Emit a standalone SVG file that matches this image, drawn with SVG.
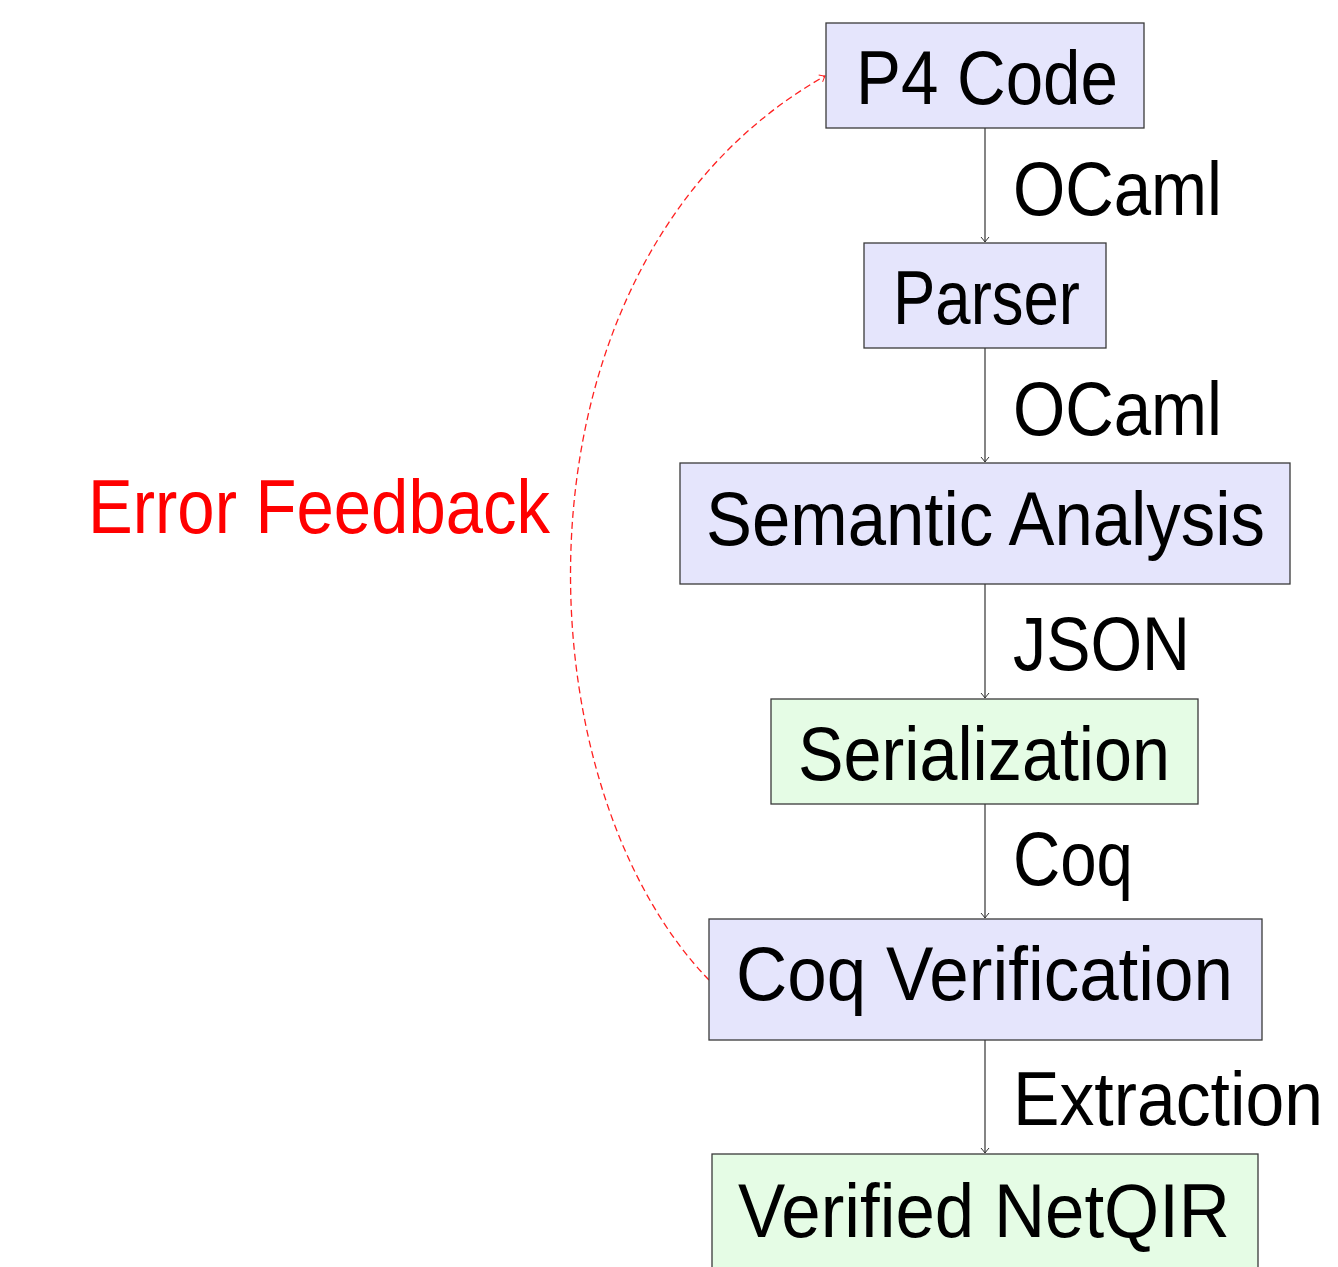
<svg xmlns="http://www.w3.org/2000/svg" width="1338" height="1267" viewBox="0 0 1338 1267">
<defs>
<style>
.box{stroke:#3a3a3a;stroke-width:1.3}
.blue{fill:#e5e5fc}
.green{fill:#e5fce5}
.t{font-family:"Liberation Sans",Arial,sans-serif;font-size:76px;fill:#000}
.edge{stroke:#333;stroke-width:1.2;fill:none}
.fb{stroke:#ff2020;stroke-width:1.3;fill:none;stroke-dasharray:7 4}
</style>
<marker id="arr" viewBox="-6 -5 7 10" markerWidth="7" markerHeight="10" refX="0" refY="0" orient="auto" markerUnits="userSpaceOnUse">
<path d="M-5,-4 Q-1.5,-1 0,0 Q-1.5,1 -5,4" fill="none" stroke="#333" stroke-width="1"/>
</marker>
<marker id="arrRed" viewBox="-6 -5 7 10" markerWidth="7" markerHeight="10" refX="0" refY="0" orient="auto" markerUnits="userSpaceOnUse">
<path d="M-5,-4 Q-1.5,-1 0,0 Q-1.5,1 -5,4" fill="none" stroke="#ff2020" stroke-width="1"/>
</marker>
</defs>
<rect width="1338" height="1267" fill="#fff"/>
<g id="connectors">
<line class="edge" x1="985" y1="128" x2="985" y2="242" marker-end="url(#arr)"/>
<line class="edge" x1="985" y1="348" x2="985" y2="462" marker-end="url(#arr)"/>
<line class="edge" x1="985" y1="584" x2="985" y2="698" marker-end="url(#arr)"/>
<line class="edge" x1="985" y1="804" x2="985" y2="918" marker-end="url(#arr)"/>
<line class="edge" x1="985" y1="1040" x2="985" y2="1153" marker-end="url(#arr)"/>
<path class="fb" d="M709,980 C515,780 500,260 825,76" marker-end="url(#arrRed)"/>
<text class="t" x="1013" y="215" textLength="209" lengthAdjust="spacingAndGlyphs">OCaml</text>
<text class="t" x="1013" y="435" textLength="209" lengthAdjust="spacingAndGlyphs">OCaml</text>
<text class="t" x="1013" y="670" textLength="177" lengthAdjust="spacingAndGlyphs">JSON</text>
<text class="t" x="1013" y="885" textLength="120" lengthAdjust="spacingAndGlyphs">Coq</text>
<text class="t" x="1013" y="1125" textLength="310" lengthAdjust="spacingAndGlyphs">Extraction</text>
<text class="t" x="88" y="533" textLength="462" lengthAdjust="spacingAndGlyphs" style="fill:#ff0000">Error Feedback</text>
</g>
<g id="p4code">
<rect class="box blue" x="826" y="23" width="318" height="105"/>
<text class="t" x="856" y="104" textLength="262" lengthAdjust="spacingAndGlyphs">P4 Code</text>
</g>
<g id="parser">
<rect class="box blue" x="864" y="243" width="242" height="105"/>
<text class="t" x="893" y="324" textLength="187" lengthAdjust="spacingAndGlyphs">Parser</text>
</g>
<g id="semantic">
<rect class="box blue" x="680" y="463" width="610" height="121"/>
<text class="t" x="706" y="545" textLength="559" lengthAdjust="spacingAndGlyphs">Semantic Analysis</text>
</g>
<g id="serialization">
<rect class="box green" x="771" y="699" width="427" height="105"/>
<text class="t" x="798" y="780" textLength="372" lengthAdjust="spacingAndGlyphs">Serialization</text>
</g>
<g id="coqverif">
<rect class="box blue" x="709" y="919" width="553" height="121"/>
<text class="t" x="736" y="1000" textLength="497" lengthAdjust="spacingAndGlyphs">Coq Verification</text>
</g>
<g id="netqir">
<rect class="box green" x="712" y="1154" width="546" height="121"/>
<text class="t" x="738" y="1237" textLength="492" lengthAdjust="spacingAndGlyphs">Verified NetQIR</text>
</g>
</svg>
